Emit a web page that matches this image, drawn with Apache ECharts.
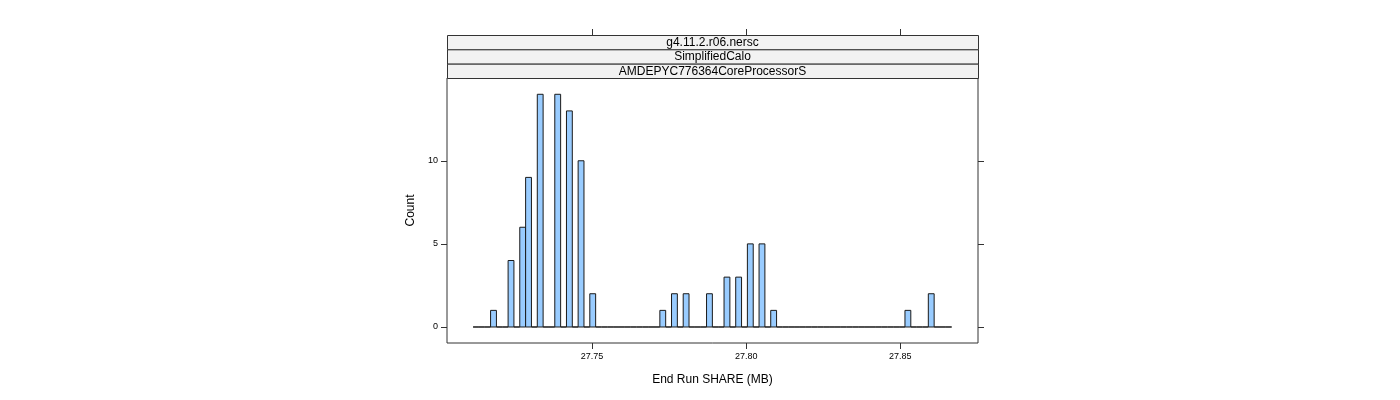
<!DOCTYPE html>
<html>
<head>
<meta charset="utf-8">
<script src="https://cdn.jsdelivr.net/npm/echarts@6/dist/echarts.min.js"></script>
<style>html,body{margin:0;padding:0;background:#fff;}#c{width:1400px;height:400px;}</style>
</head>
<body>
<div id="c"></div>
<script>
// ---- data ----
const stripLabels = ["g4.11.2.r06.nersc", "SimplifiedCalo", "AMDEPYC776364CoreProcessorS"];
const binStart = 27.71143;   // first histogram break (MB)
const binWidth = 0.001893;   // histogram bin width (MB)
const counts = [
  0,0,0,1,0,0,4,0,6,9,
  0,14,0,0,14,0,13,0,10,0,
  2,0,0,0,0,0,0,0,0,0,
  0,0,1,0,2,0,2,0,0,0,
  2,0,0,3,0,3,0,5,0,5,
  0,1,0,0,0,0,0,0,0,0,
  0,0,0,0,0,0,0,0,0,0,
  0,0,0,0,1,0,0,0,2,0,
  0,0
];
const xTicks = [27.75, 27.80, 27.85];
const yTicks = [0, 5, 10];
const xTitle = "End Run SHARE (MB)";
const yTitle = "Count";

// ---- build ----
const bins = counts.map((c, i) => [binStart + i * binWidth, binStart + (i + 1) * binWidth, c]);

const FONT = "Liberation Sans, Arial, sans-serif";
const chart = echarts.init(document.getElementById('c'), null, {renderer: 'canvas'});

const gridLeft = 447, gridRight = 422, gridTop = 78, gridBottom = 57;
const panelW = 1400 - gridLeft - gridRight;
const stripH = (78 - 35) / 3;

const graphics = [];
stripLabels.forEach((t, i) => {
  graphics.push({
    type: 'rect', left: gridLeft, top: 35 + i * stripH,
    shape: {width: panelW, height: stripH},
    style: {fill: '#f2f2f2', stroke: '#333', lineWidth: 1}, z: 10
  });
  graphics.push({
    type: 'text', x: gridLeft + panelW / 2, y: 35 + i * stripH + stripH / 2 + 0.5,
    style: {text: t, fill: '#000', font: '12px ' + FONT, textAlign: 'center', textVerticalAlign: 'middle'}, z: 11
  });
});

const tickStyle = {show: true, length: 6, inside: false, lineStyle: {color: '#333', width: 1}};
const noLine = {show: false, onZero: false};

chart.setOption({
  animation: false,
  backgroundColor: '#fff',
  grid: {left: gridLeft, right: gridRight, top: gridTop, bottom: gridBottom, show: true, borderColor: '#333', borderWidth: 1, containLabel: false},
  graphic: graphics,
  xAxis: [{
    type: 'value', min: 27.70297, max: 27.8752, position: 'bottom',
    name: xTitle, nameLocation: 'middle', nameGap: 31,
    nameTextStyle: {fontSize: 12, color: '#000', fontFamily: FONT},
    axisLine: noLine,
    splitLine: {show: false},
    axisTick: Object.assign({customValues: xTicks}, tickStyle),
    axisLabel: {customValues: xTicks, fontSize: 9, color: '#000', fontFamily: FONT, margin: 9, formatter: v => v.toFixed(2)}
  }, {
    type: 'value', min: 27.70297, max: 27.8752, position: 'top', offset: 43,
    axisLine: noLine, splitLine: {show: false},
    axisTick: Object.assign({customValues: xTicks}, tickStyle),
    axisLabel: {show: false, customValues: xTicks}
  }],
  yAxis: [{
    type: 'value', min: -0.963, max: 14.98, position: 'left',
    name: yTitle, nameLocation: 'middle', nameGap: 30, nameRotate: 90,
    nameTextStyle: {fontSize: 12, color: '#000', fontFamily: FONT},
    axisLine: noLine, splitLine: {show: false},
    axisTick: Object.assign({customValues: yTicks}, tickStyle),
    axisLabel: {customValues: yTicks, fontSize: 9, color: '#000', fontFamily: FONT, margin: 9}
  }, {
    type: 'value', min: -0.963, max: 14.98, position: 'right',
    axisLine: noLine, splitLine: {show: false},
    axisTick: Object.assign({customValues: yTicks}, tickStyle),
    axisLabel: {show: false, customValues: yTicks}
  }],
  series: [{
    type: 'custom',
    xAxisIndex: 0, yAxisIndex: 0,
    data: bins,
    encode: {x: [0, 1], y: 2},
    renderItem: function (params, api) {
      const s = api.value(0), e = api.value(1), c = api.value(2);
      const p0 = api.coord([s, c]);
      const p1 = api.coord([e, 0]);
      return {
        type: 'rect',
        shape: {x: p0[0], y: p0[1], width: p1[0] - p0[0], height: p1[1] - p0[1]},
        style: {fill: '#99CCFF', stroke: '#1a1a1a', lineWidth: 1}
      };
    }
  }]
});
</script>
</body>
</html>
